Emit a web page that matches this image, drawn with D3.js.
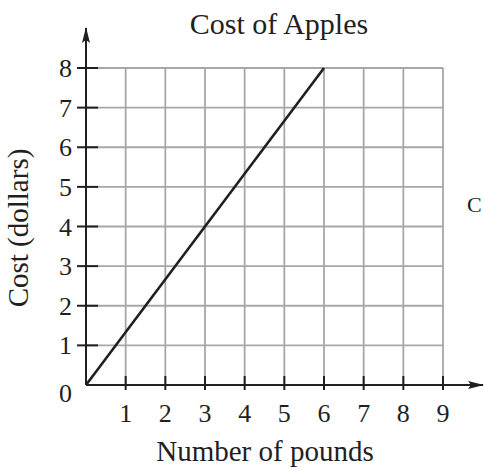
<!DOCTYPE html>
<html lang='en'>
<head>
  <meta charset='utf-8'/>
  <title>Cost of Apples</title>
  <script src='https://d3js.org/d3.v7.min.js'></script>
  <style>
    body{margin:0;background:#ffffff;}
    svg{display:block;font-family:'Liberation Serif','DejaVu Serif',serif;}
  </style>
</head>
<body>
<svg id='chart'></svg>
<script>
// Data
const pounds = [0, 6];
const cost   = [0, 8];
const xTicks = [1, 2, 3, 4, 5, 6, 7, 8, 9];
const yTicks = [1, 2, 3, 4, 5, 6, 7, 8];

// Settings
const W = 484, H = 468;
const margin = {top: 68, right: 41, bottom: 83, left: 86};
const width  = W - margin.left - margin.right;
const height = H - margin.top - margin.bottom;
const ink = '#231f20';

const root = d3.select('#chart').attr('width', W).attr('height', H);
const svg = root.append('g').attr('transform', `translate(${margin.left},${margin.top})`);

const x = d3.scaleLinear().domain([0, 9]).range([0, width]);
const y = d3.scaleLinear().domain([0, 8]).range([height, 0]);

// Arrow heads
const defs = root.append('defs');
defs.append('marker')
  .attr('id', 'arrow')
  .attr('viewBox', '0 0 16 8')
  .attr('refX', 15).attr('refY', 4)
  .attr('markerWidth', 16).attr('markerHeight', 8)
  .attr('markerUnits', 'userSpaceOnUse')
  .attr('orient', 'auto')
  .append('path').attr('d', 'M0,0 L16,4 L0,8 L3,4 Z').attr('fill', ink);

// Grid
svg.append('g').selectAll('line').data(xTicks).join('line')
  .attr('x1', d => x(d)).attr('x2', d => x(d))
  .attr('y1', y(0)).attr('y2', y(8))
  .attr('stroke', '#a7a7a7').attr('stroke-width', 1.8);
svg.append('g').selectAll('line').data(yTicks).join('line')
  .attr('x1', x(0)).attr('x2', x(9))
  .attr('y1', d => y(d)).attr('y2', d => y(d))
  .attr('stroke', '#a7a7a7').attr('stroke-width', 1.8);

// Axes with arrows
svg.append('line')
  .attr('x1', x(0)).attr('y1', y(0))
  .attr('x2', x(0)).attr('y2', y(8) - 40)
  .attr('stroke', ink).attr('stroke-width', 2)
  .attr('marker-end', 'url(#arrow)');
svg.append('line')
  .attr('x1', x(0)).attr('y1', y(0))
  .attr('x2', x(9) + 40).attr('y2', y(0))
  .attr('stroke', ink).attr('stroke-width', 2)
  .attr('marker-end', 'url(#arrow)');

// Tick marks
svg.append('g').selectAll('line').data(yTicks).join('line')
  .attr('x1', -9).attr('x2', 12)
  .attr('y1', d => y(d)).attr('y2', d => y(d))
  .attr('stroke', ink).attr('stroke-width', 2);
svg.append('g').selectAll('line').data(xTicks).join('line')
  .attr('x1', d => x(d)).attr('x2', d => x(d))
  .attr('y1', height - 9).attr('y2', height + 5)
  .attr('stroke', ink).attr('stroke-width', 2);

// Tick labels
svg.append('g').selectAll('text').data(yTicks).join('text')
  .attr('x', -14).attr('y', d => y(d) + 9)
  .attr('text-anchor', 'end')
  .attr('font-size', 26).attr('fill', ink)
  .text(d => d);
svg.append('g').selectAll('text').data(xTicks).join('text')
  .attr('x', d => x(d)).attr('y', height + 37)
  .attr('text-anchor', 'middle')
  .attr('font-size', 26).attr('fill', ink)
  .text(d => d);
svg.append('text')
  .attr('x', -14).attr('y', height + 17)
  .attr('text-anchor', 'end')
  .attr('font-size', 26).attr('fill', ink)
  .text(0);

// Cost line
const line = d3.line().x(d => x(d[0])).y(d => y(d[1]));
svg.append('path')
  .datum(pounds.map((p, i) => [p, cost[i]]))
  .attr('d', line)
  .attr('fill', 'none')
  .attr('stroke', ink)
  .attr('stroke-width', 2.6);

// Titles
root.append('text')
  .attr('x', 279).attr('y', 34)
  .attr('text-anchor', 'middle')
  .attr('font-size', 30).attr('fill', ink)
  .text('Cost of Apples');
root.append('text')
  .attr('x', 265).attr('y', 461)
  .attr('text-anchor', 'middle')
  .attr('font-size', 29).attr('fill', ink)
  .text('Number of pounds');
root.append('text')
  .attr('transform', 'translate(28,228) rotate(-90)')
  .attr('text-anchor', 'middle')
  .attr('font-size', 29).attr('fill', ink)
  .text('Cost (dollars)');

// Letter at the right edge (cut off in the source)
root.append('text')
  .attr('x', 467).attr('y', 212)
  .attr('font-size', 22).attr('fill', ink)
  .text('C');
</script>
</body>
</html>
